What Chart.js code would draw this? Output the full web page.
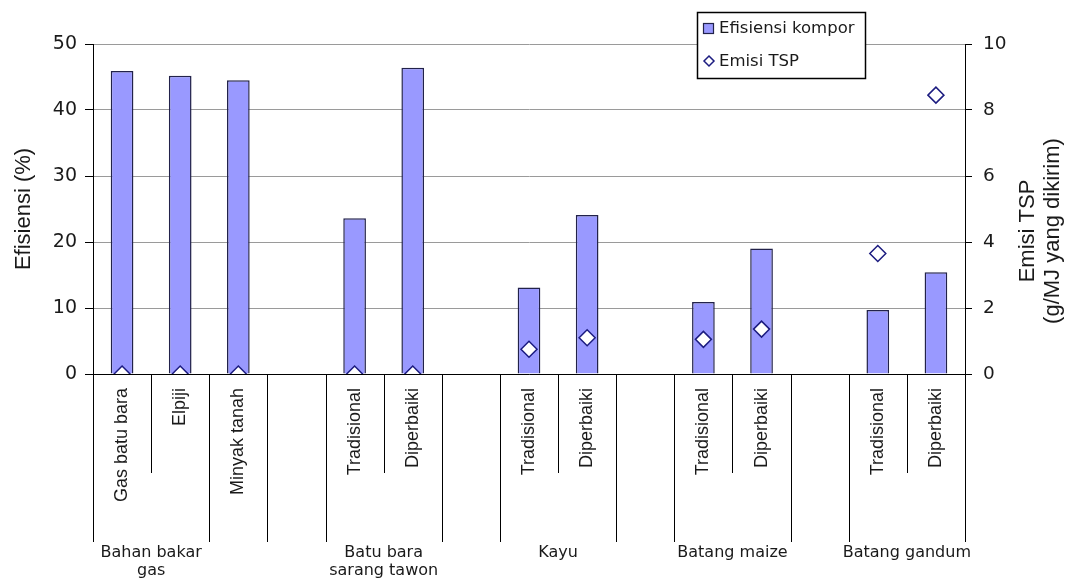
<!DOCTYPE html>
<html>
<head>
<meta charset="utf-8">
<title>Efisiensi kompor dan emisi TSP</title>
<script src="https://cdn.jsdelivr.net/npm/chart.js@4.4.1/dist/chart.umd.min.js"></script>
<style>
  html, body { margin: 0; padding: 0; background: #fff; }
  #wrap { width: 1072px; height: 582px; position: relative; }
</style>
</head>
<body>
<div id="wrap"><canvas id="chart"></canvas></div>
<script>
// Stove efficiency (bars, left axis) and TSP emission (diamonds, right axis)

const categories = ['Gas batu bara', 'Elpiji', 'Minyak tanah', '', 'Tradisional', 'Diperbaiki', '', 'Tradisional', 'Diperbaiki', '', 'Tradisional', 'Diperbaiki', '', 'Tradisional', 'Diperbaiki'];
const efisiensi = [45.9, 45.2, 44.5, null, 23.6, 46.4, null, 13.1, 24.1, null, 10.9, 19.0, null, 9.7, 15.4];
const emisiTSP = [0, 0, 0, null, 0, 0, null, 0.75, 1.1, null, 1.05, 1.36, null, 3.65, 8.45];

// second level of the category axis
const groupNames = [['Bahan bakar', 'gas'], [], [], ['Batu bara', 'sarang tawon'], [], ['Kayu'], [], ['Batang maize'], [], ['Batang gandum']];
const groupSizes = [2, 1, 1, 2, 1, 2, 1, 2, 1, 2];

const leftTicks = [0, 10, 20, 30, 40, 50];
const rightTicks = [0, 2, 4, 6, 8, 10];

const FONT = '"Liberation Sans", Arial, Helvetica, sans-serif';  // rotated text
const WIDE = '"DejaVu Sans", Verdana, sans-serif';               // horizontal text
const TEXT = '#1a1a1a';
const BAR_FILL = '#9999ff';
const BAR_EDGE = '#22224a';
const MARK_EDGE = '#1c1c80';

const multiLevelAxis = {
  id: 'multiLevelAxis',
  afterDraw(chart) {
    const ctx = chart.ctx;
    const x = chart.scales.x;
    const y0 = x.top;
    const half = (x.getPixelForValue(1) - x.getPixelForValue(0)) / 2;

    // group boundaries get long lines, boundaries inside a group short ones
    const longAt = new Set([0]);
    let n = 0;
    groupSizes.forEach(s => { n += s; longAt.add(n); });

    ctx.save();
    ctx.strokeStyle = '#000';
    ctx.lineWidth = 1;
    for (let i = 0; i <= categories.length; i++) {
      const px = Math.round(x.getPixelForValue(i) - half) + 0.5;
      ctx.beginPath();
      ctx.moveTo(px, y0);
      ctx.lineTo(px, y0 + (longAt.has(i) ? 168 : 99));
      ctx.stroke();
    }

    ctx.fillStyle = TEXT;
    ctx.font = '16px ' + WIDE;
    ctx.textAlign = 'center';
    ctx.textBaseline = 'middle';
    let start = 0;
    groupNames.forEach((lines, g) => {
      const cx = (x.getPixelForValue(start) + x.getPixelForValue(start + groupSizes[g] - 1)) / 2;
      lines.forEach((t, k) => ctx.fillText(t, cx, y0 + 179 + k * 18));
      start += groupSizes[g];
    });

    // right axis title, reading bottom to top like the left one
    const yr = chart.scales.yRight;
    ctx.font = '22px ' + FONT;
    ctx.translate(1028, (yr.top + yr.bottom) / 2 + 22);
    ctx.rotate(-Math.PI / 2);
    ctx.fillText('Emisi TSP', 0, 0);
    ctx.fillText('(g/MJ yang dikirim)', 0, 25);
    ctx.restore();

    // legend box
    ctx.save();
    ctx.fillStyle = '#fff';
    ctx.fillRect(697, 12, 169, 67);
    ctx.strokeStyle = '#000';
    ctx.lineWidth = 1.5;
    ctx.strokeRect(697.5, 12.5, 168, 66);

    ctx.fillStyle = BAR_FILL;
    ctx.fillRect(703, 23, 11, 11);
    ctx.strokeStyle = BAR_EDGE;
    ctx.lineWidth = 1.2;
    ctx.strokeRect(703.5, 23.5, 10, 10);

    ctx.beginPath();
    ctx.moveTo(709, 56); ctx.lineTo(714, 61); ctx.lineTo(709, 66); ctx.lineTo(704, 61);
    ctx.closePath();
    ctx.fillStyle = '#fff';
    ctx.fill();
    ctx.strokeStyle = MARK_EDGE;
    ctx.lineWidth = 1.5;
    ctx.stroke();

    ctx.fillStyle = TEXT;
    ctx.font = '16.5px ' + WIDE;
    ctx.textAlign = 'left';
    ctx.textBaseline = 'middle';
    ctx.fillText(chart.data.datasets[0].label, 719, 29);
    ctx.fillText(chart.data.datasets[1].label, 719, 62);
    ctx.restore();
  }
};

new Chart(document.getElementById('chart'), {
  data: {
    labels: categories,
    datasets: [
      {
        type: 'bar',
        label: 'Efisiensi kompor',
        data: efisiensi,
        yAxisID: 'y',
        backgroundColor: BAR_FILL,
        borderColor: BAR_EDGE,
        borderWidth: 1.5,
        categoryPercentage: 1,
        barPercentage: 0.39,
        order: 2
      },
      {
        type: 'line',
        label: 'Emisi TSP',
        data: emisiTSP,
        yAxisID: 'yRight',
        showLine: false,
        pointStyle: 'rectRot',
        pointRadius: 8,
        pointBorderWidth: 1.5,
        pointBackgroundColor: '#fff',
        pointBorderColor: MARK_EDGE,
        order: 1
      }
    ]
  },
  options: {
    responsive: true,
    maintainAspectRatio: false,
    animation: false,
    layout: { padding: { top: 44, left: 0, right: 0, bottom: 0 } },
    plugins: {
      legend: { display: false },
      tooltip: { enabled: false }
    },
    scales: {
      x: {
        type: 'category',
        offset: true,
        grid: { display: false, drawTicks: false },
        border: { display: true, color: '#000', width: 1 },
        ticks: {
          autoSkip: false,
          minRotation: 90,
          maxRotation: 90,
          padding: 14,
          color: TEXT,
          font: { family: FONT, size: 18 }
        },
        afterFit(s) { s.height = 208; s.paddingLeft = 0; s.paddingRight = 0; }
      },
      y: {
        position: 'left',
        min: leftTicks[0],
        max: leftTicks[leftTicks.length - 1],
        afterBuildTicks(s) { s.ticks = leftTicks.map(v => ({ value: v })); },
        grid: { color: '#9a9a9a', lineWidth: 1, tickColor: '#000', tickLength: 8 },
        border: { display: true, color: '#000', width: 1 },
        ticks: { padding: 8, color: TEXT, font: { family: WIDE, size: 19 } },
        title: {
          display: true,
          text: 'Efisiensi (%)',
          color: TEXT,
          font: { family: FONT, size: 22 },
          padding: { top: 11, bottom: 0 }
        },
        afterFit(s) { s.width = 93; s.paddingTop = 0; s.paddingBottom = 0; }
      },
      yRight: {
        position: 'right',
        min: rightTicks[0],
        max: rightTicks[rightTicks.length - 1],
        afterBuildTicks(s) { s.ticks = rightTicks.map(v => ({ value: v })); },
        grid: { drawOnChartArea: false, tickColor: '#000', tickLength: 7 },
        border: { display: true, color: '#000', width: 1 },
        ticks: { padding: 11, color: TEXT, font: { family: WIDE, size: 18.5 } },
        afterFit(s) { s.width = 107; s.paddingTop = 0; s.paddingBottom = 0; }
      }
    }
  },
  plugins: [multiLevelAxis]
});
</script>
</body>
</html>
